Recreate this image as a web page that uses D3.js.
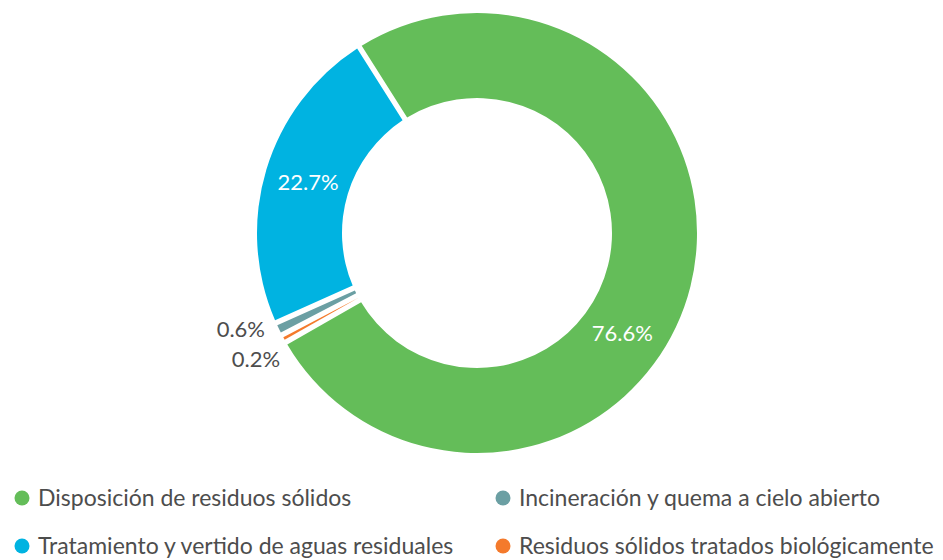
<!DOCTYPE html>
<html>
<head>
	<meta charset="utf-8">
	<title>Donut</title>
	<script type="text/javascript" src="https://cdn.jsdelivr.net/npm/d3@7"></script>
	<style>
		body {
			margin: 0;
			background: #fff;
			font-family: Lato, "Open Sans", sans-serif;
		}
	</style>
</head>

<body>

	<div id="chart"></div>

	<script>

		// data, in drawing order (clockwise)

		const categories = [
			"Disposición de residuos sólidos",
			"Residuos sólidos tratados biológicamente",
			"Incineración y quema a cielo abierto",
			"Tratamiento y vertido de aguas residuales"
		];
		const values = [76.6, 0.2, 0.6, 22.7];
		const colors = ["#64bd59", "#f47a2c", "#6b9fa3", "#00b3e1"];

		// legend order (two columns, row by row)
		const legendOrder = [0, 2, 3, 1];

		const width  = 943;
		const height = 560;
		const cx = 477, cy = 233;
		const outerRadius = 220;
		const innerRadius = 135;
		const gap = 5.4;          // white gap between slices, px
		const labelSize = 22;
		const legendSize = 23;
		const textColor = "#4d4d4d";

		const svg = d3.select("#chart")
			.append("svg")
			.attr("width", width)
			.attr("height", height)
			.attr("viewBox", [0, 0, width, height]);

		const padAngle = gap / outerRadius;

		const pie = d3.pie()
			.sort(null)
			.value(d => d.value)
			.startAngle(-0.564)
			.endAngle(-0.564 + 2 * Math.PI)
			.padAngle(padAngle);

		const arc = d3.arc()
			.innerRadius(innerRadius)
			.outerRadius(outerRadius)
			.padRadius(outerRadius);

		const data = categories.map((c, i) => ({ name: c, value: values[i], color: colors[i] }));
		const arcs = pie(data);

		const g = svg.append("g").attr("transform", `translate(${cx},${cy})`);

		g.selectAll("path")
			.data(arcs)
			.join("path")
			.attr("d", arc)
			.attr("fill", d => d.data.color);

		// labels: big slices inside, small slices outside on the left
		const fmt = v => v.toFixed(1) + "%";
		const labelR = (innerRadius + outerRadius) / 2 - 1;
		let lastOutsideY = -Infinity;

		arcs.forEach(d => { d.mid = (d.startAngle + d.endAngle) / 2; });

		arcs.filter(d => d.data.value >= 5).forEach(d => {
			// the big slice's label sits lower than its mid angle
			const a = d.data.value > 50 ? d.mid + 0.36 : d.mid;
			g.append("text")
				.attr("x", labelR * Math.sin(a))
				.attr("y", -labelR * Math.cos(a))
				.attr("dy", "0.35em")
				.attr("text-anchor", "middle")
				.attr("fill", "#fff")
				.style("font-size", labelSize + "px")
				.text(fmt(d.data.value));
		});

		// outside labels top to bottom (teal first), pushed apart when crowded
		arcs.filter(d => d.data.value < 5)
			.sort((a, b) => b.mid - a.mid)
			.forEach(d => {
				const x0 = outerRadius * Math.sin(d.mid) - 14;
				const y0 = -outerRadius * Math.cos(d.mid);
				let y = y0;
				if (y < lastOutsideY + 30) y = lastOutsideY + 30;
				lastOutsideY = y;
				g.append("text")
					.attr("x", x0 + (y - y0) * 0.5)
					.attr("y", y)
					.attr("dy", "0.35em")
					.attr("text-anchor", "end")
					.attr("fill", textColor)
					.style("font-size", labelSize + "px")
					.text(fmt(d.data.value));
			});

		// legend
		const colX = d3.scalePoint().domain([0, 1]).range([22, 503]);
		const rowY = d3.scalePoint().domain([0, 1]).range([498, 546]);

		const legend = svg.append("g")
			.selectAll("g")
			.data(legendOrder)
			.join("g")
			.attr("transform", (k, i) => `translate(${colX(i % 2)},${rowY(Math.floor(i / 2))})`);

		legend.append("circle")
			.attr("r", 7.5)
			.attr("fill", k => colors[k]);

		legend.append("text")
			.attr("x", 16)
			.attr("dy", "0.35em")
			.attr("fill", textColor)
			.style("font-size", legendSize + "px")
			.text(k => categories[k]);

	</script>

</body>

</html>
